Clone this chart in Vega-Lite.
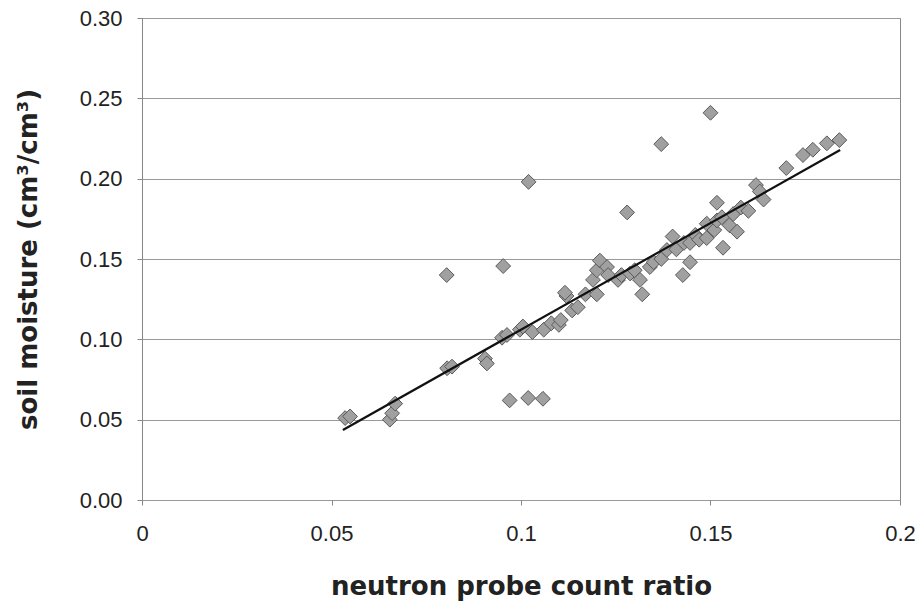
{
  "$schema": "https://vega.github.io/schema/vega-lite/v6.json",
  "width": 758,
  "height": 482,
  "autosize": {"type": "none"},
  "padding": {"left": 142, "top": 18, "right": 20, "bottom": 113},
  "background": "white",
  "config": {
    "view": {"stroke": "#888888", "strokeWidth": 1},
    "axis": {
      "labelFont": "Liberation Sans",
      "labelFontSize": 22,
      "labelColor": "#222222",
      "titleFont": "DejaVu Sans",
      "titleFontWeight": "bold",
      "titleFontSize": 26,
      "titleColor": "#222222",
      "domainColor": "#888888",
      "tickColor": "#888888",
      "gridColor": "#999999"
    }
  },
  "datasets": {
    "points": [
      {"ratio": 0.0536, "moisture": 0.051},
      {"ratio": 0.0549, "moisture": 0.052},
      {"ratio": 0.0654, "moisture": 0.050},
      {"ratio": 0.066, "moisture": 0.054},
      {"ratio": 0.0668, "moisture": 0.060},
      {"ratio": 0.0805, "moisture": 0.082},
      {"ratio": 0.0818, "moisture": 0.083},
      {"ratio": 0.0905, "moisture": 0.088},
      {"ratio": 0.091, "moisture": 0.085},
      {"ratio": 0.095, "moisture": 0.101},
      {"ratio": 0.0963, "moisture": 0.1027},
      {"ratio": 0.0997, "moisture": 0.106},
      {"ratio": 0.1005, "moisture": 0.108},
      {"ratio": 0.103, "moisture": 0.1045},
      {"ratio": 0.106, "moisture": 0.106},
      {"ratio": 0.108, "moisture": 0.110},
      {"ratio": 0.110, "moisture": 0.109},
      {"ratio": 0.1105, "moisture": 0.112},
      {"ratio": 0.112, "moisture": 0.127},
      {"ratio": 0.1135, "moisture": 0.118},
      {"ratio": 0.115, "moisture": 0.120},
      {"ratio": 0.1116, "moisture": 0.129},
      {"ratio": 0.117, "moisture": 0.128},
      {"ratio": 0.119, "moisture": 0.137},
      {"ratio": 0.120, "moisture": 0.143},
      {"ratio": 0.120, "moisture": 0.128},
      {"ratio": 0.1208, "moisture": 0.149},
      {"ratio": 0.1227, "moisture": 0.145},
      {"ratio": 0.123, "moisture": 0.140},
      {"ratio": 0.1256, "moisture": 0.137},
      {"ratio": 0.1265, "moisture": 0.140},
      {"ratio": 0.1288, "moisture": 0.141},
      {"ratio": 0.130, "moisture": 0.143},
      {"ratio": 0.1314, "moisture": 0.137},
      {"ratio": 0.132, "moisture": 0.128},
      {"ratio": 0.134, "moisture": 0.145},
      {"ratio": 0.135, "moisture": 0.148},
      {"ratio": 0.137, "moisture": 0.150},
      {"ratio": 0.1385, "moisture": 0.1556},
      {"ratio": 0.140, "moisture": 0.164},
      {"ratio": 0.141, "moisture": 0.156},
      {"ratio": 0.1427, "moisture": 0.140},
      {"ratio": 0.143, "moisture": 0.160},
      {"ratio": 0.1446, "moisture": 0.148},
      {"ratio": 0.1446, "moisture": 0.160},
      {"ratio": 0.146, "moisture": 0.165},
      {"ratio": 0.147, "moisture": 0.162},
      {"ratio": 0.149, "moisture": 0.163},
      {"ratio": 0.149, "moisture": 0.172},
      {"ratio": 0.151, "moisture": 0.168},
      {"ratio": 0.1517, "moisture": 0.174},
      {"ratio": 0.1517, "moisture": 0.185},
      {"ratio": 0.1533, "moisture": 0.157},
      {"ratio": 0.153, "moisture": 0.176},
      {"ratio": 0.155, "moisture": 0.171},
      {"ratio": 0.156, "moisture": 0.178},
      {"ratio": 0.157, "moisture": 0.167},
      {"ratio": 0.158, "moisture": 0.182},
      {"ratio": 0.160, "moisture": 0.180},
      {"ratio": 0.162, "moisture": 0.196},
      {"ratio": 0.163, "moisture": 0.192},
      {"ratio": 0.164, "moisture": 0.187},
      {"ratio": 0.170, "moisture": 0.2066},
      {"ratio": 0.1744, "moisture": 0.2147},
      {"ratio": 0.177, "moisture": 0.218},
      {"ratio": 0.1807, "moisture": 0.222},
      {"ratio": 0.184, "moisture": 0.224},
      {"ratio": 0.0804, "moisture": 0.140},
      {"ratio": 0.0953, "moisture": 0.1456},
      {"ratio": 0.102, "moisture": 0.198},
      {"ratio": 0.097, "moisture": 0.062},
      {"ratio": 0.1019, "moisture": 0.0635},
      {"ratio": 0.1058, "moisture": 0.063},
      {"ratio": 0.128, "moisture": 0.179},
      {"ratio": 0.137, "moisture": 0.2215},
      {"ratio": 0.150, "moisture": 0.241}
    ],
    "trend": [
      {"ratio": 0.053, "moisture": 0.0436},
      {"ratio": 0.1842, "moisture": 0.2178}
    ]
  },
  "layer": [
    {
      "data": {"name": "points"},
      "mark": {"type": "point", "shape": "diamond", "filled": true, "size": 220, "fill": "#a0a0a0", "stroke": "#5a5a5a", "strokeWidth": 1, "opacity": 1},
      "encoding": {
        "x": {
          "field": "ratio", "type": "quantitative",
          "scale": {"domain": [0, 0.2], "nice": false, "zero": false},
          "axis": {
            "title": "neutron probe count ratio",
            "values": [0, 0.05, 0.1, 0.15, 0.2],
            "format": "~g",
            "grid": false,
            "domain": false,
            "tickSize": 5,
            "labelPadding": 18,
            "titlePadding": 29,
            "labelFlush": false
          }
        },
        "y": {
          "field": "moisture", "type": "quantitative",
          "scale": {"domain": [0, 0.3], "nice": false},
          "axis": {
            "title": "soil moisture (cm³/cm³)",
            "values": [0, 0.05, 0.1, 0.15, 0.2, 0.25, 0.3],
            "format": ".2f",
            "grid": true,
            "tickSize": 5,
            "labelPadding": 15,
            "titlePadding": 38,
            "labelFlush": false
          }
        }
      }
    },
    {
      "data": {"name": "trend"},
      "mark": {"type": "line", "color": "#111111", "strokeWidth": 2.2},
      "encoding": {
        "x": {"field": "ratio", "type": "quantitative"},
        "y": {"field": "moisture", "type": "quantitative"}
      }
    }
  ]
}
